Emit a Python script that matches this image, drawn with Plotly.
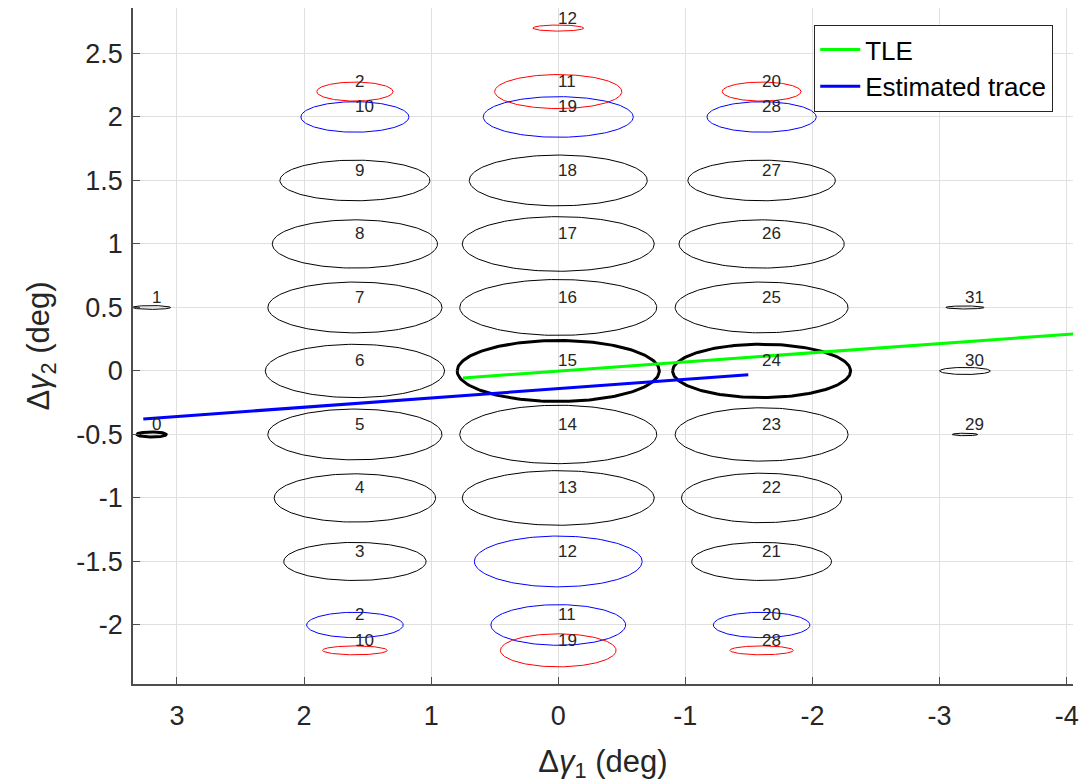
import numpy as np
import plotly.graph_objects as go

# ---- ellipse data (centre, semi-axes in deg) ----
ell_label = [2, 10, 9, 8, 7, 6, 5, 4, 3, 2, 10,
             12, 11, 19, 18, 17, 16, 15, 14, 13, 12, 11, 19,
             20, 28, 27, 26, 25, 24, 23, 22, 21, 20, 28,
             1, 0, 31, 30, 29]
ell_x = [1.6] * 11 + [0.0] * 12 + [-1.6] * 11 + [3.2, 3.2, -3.2, -3.2, -3.2]
ell_y = [2.2, 2.0, 1.5, 1.0, 0.5, 0.0, -0.5, -1.0, -1.5, -2.0, -2.2,
         2.7, 2.2, 2.0, 1.5, 1.0, 0.5, 0.0, -0.5, -1.0, -1.5, -2.0, -2.2,
         2.2, 2.0, 1.5, 1.0, 0.5, 0.0, -0.5, -1.0, -1.5, -2.0, -2.2,
         0.5, -0.5, 0.5, 0.0, -0.5]
ell_a = [0.30, 0.425, 0.59, 0.65, 0.685, 0.705, 0.685, 0.635, 0.56, 0.38, 0.255,
         0.20, 0.50, 0.59, 0.70, 0.755, 0.775, 0.795, 0.775, 0.755, 0.66, 0.53, 0.455,
         0.31, 0.43, 0.58, 0.65, 0.68, 0.70, 0.68, 0.63, 0.55, 0.38, 0.25,
         0.15, 0.115, 0.15, 0.20, 0.10]
ell_b = [0.075, 0.12, 0.16, 0.19, 0.20, 0.21, 0.20, 0.19, 0.15, 0.10, 0.035,
         0.024, 0.134, 0.16, 0.20, 0.215, 0.22, 0.24, 0.23, 0.215, 0.20, 0.16, 0.13,
         0.075, 0.12, 0.16, 0.19, 0.20, 0.21, 0.21, 0.195, 0.15, 0.10, 0.035,
         0.015, 0.02, 0.012, 0.028, 0.01]
ell_kind = ["r", "b", "k", "k", "k", "k", "k", "k", "k", "b", "r",
            "r", "r", "b", "k", "k", "k", "K", "k", "k", "b", "b", "r",
            "r", "b", "k", "k", "k", "K", "k", "k", "k", "b", "r",
            "k", "K", "k", "k", "k"]

# ---- traces ----
tle_x = [0.75, -4.1]
tle_y = [-0.055, 0.295]
est_x = [3.265, -1.495]
est_y = [-0.378, -0.03]

x_ticks = [3, 2, 1, 0, -1, -2, -3, -4]
y_ticks = [-2, -1.5, -1, -0.5, 0, 0.5, 1, 1.5, 2, 2.5]
y_tick_text = ["-2", "-1.5", "-1", "-0.5", "0", "0.5", "1", "1.5", "2", "2.5"]

colors = {"r": "#ff0000", "b": "#0000ff", "k": "#000000", "K": "#000000"}
widths = {"r": 1, "b": 1, "k": 1, "K": 3}

FONT = "Liberation Sans, Arial, sans-serif"
fig = go.Figure()
t = np.linspace(0, 2 * np.pi, 181)
for cx, cy, a, b, k in zip(ell_x, ell_y, ell_a, ell_b, ell_kind):
    fig.add_trace(go.Scatter(x=cx + a * np.cos(t), y=cy + b * np.sin(t), mode="lines",
                             line=dict(color=colors[k], width=widths[k]),
                             showlegend=False, hoverinfo="skip"))

fig.add_trace(go.Scatter(x=tle_x, y=tle_y, mode="lines", name="TLE",
                         line=dict(color="#00ff00", width=3)))
fig.add_trace(go.Scatter(x=est_x, y=est_y, mode="lines", name="Estimated trace",
                         line=dict(color="#0000ff", width=3)))

for cx, cy, lab in zip(ell_x, ell_y, ell_label):
    fig.add_annotation(x=cx, y=cy, text=str(lab), showarrow=False, xanchor="left",
                       yanchor="middle", xshift=-2, yshift=10,
                       font=dict(family=FONT, size=17, color="#262626"))

axis_common = dict(showgrid=True, gridcolor="#e0e0e0", gridwidth=1, zeroline=False,
                   showline=True, linecolor="#4d4d4d", linewidth=1.5, ticks="inside",
                   ticklen=7, tickwidth=1.2, tickcolor="#4d4d4d", mirror=False,
                   tickfont=dict(family=FONT, size=27, color="#262626"))

fig.update_layout(
    width=1081, height=776,
    margin=dict(l=125, r=16, t=0, b=100),
    paper_bgcolor="white", plot_bgcolor="white",
    xaxis=dict(range=[3.346, -4.05], tickvals=x_ticks, ticktext=[str(v) for v in x_ticks],
               ticklabelstandoff=7,
               title=dict(text="Δ<i>γ</i><sub>1</sub> (deg)", standoff=20,
                          font=dict(family=FONT, size=31, color="#262626")),
               **axis_common),
    yaxis=dict(range=[-2.465, 2.858], tickvals=y_ticks, ticktext=y_tick_text,
               ticklabelstandoff=3,
               title=dict(text="Δ<i>γ</i><sub>2</sub> (deg)", standoff=17,
                          font=dict(family=FONT, size=31, color="#262626")),
               **axis_common),
    legend=dict(x=0.7245, y=0.975, xanchor="left", yanchor="top",
                bgcolor="white", bordercolor="#262626", borderwidth=1.2,
                font=dict(family=FONT, size=26, color="#000000"),
                tracegroupgap=0, itemwidth=40),
    showlegend=True,
)

fig.write_html("out.html")
